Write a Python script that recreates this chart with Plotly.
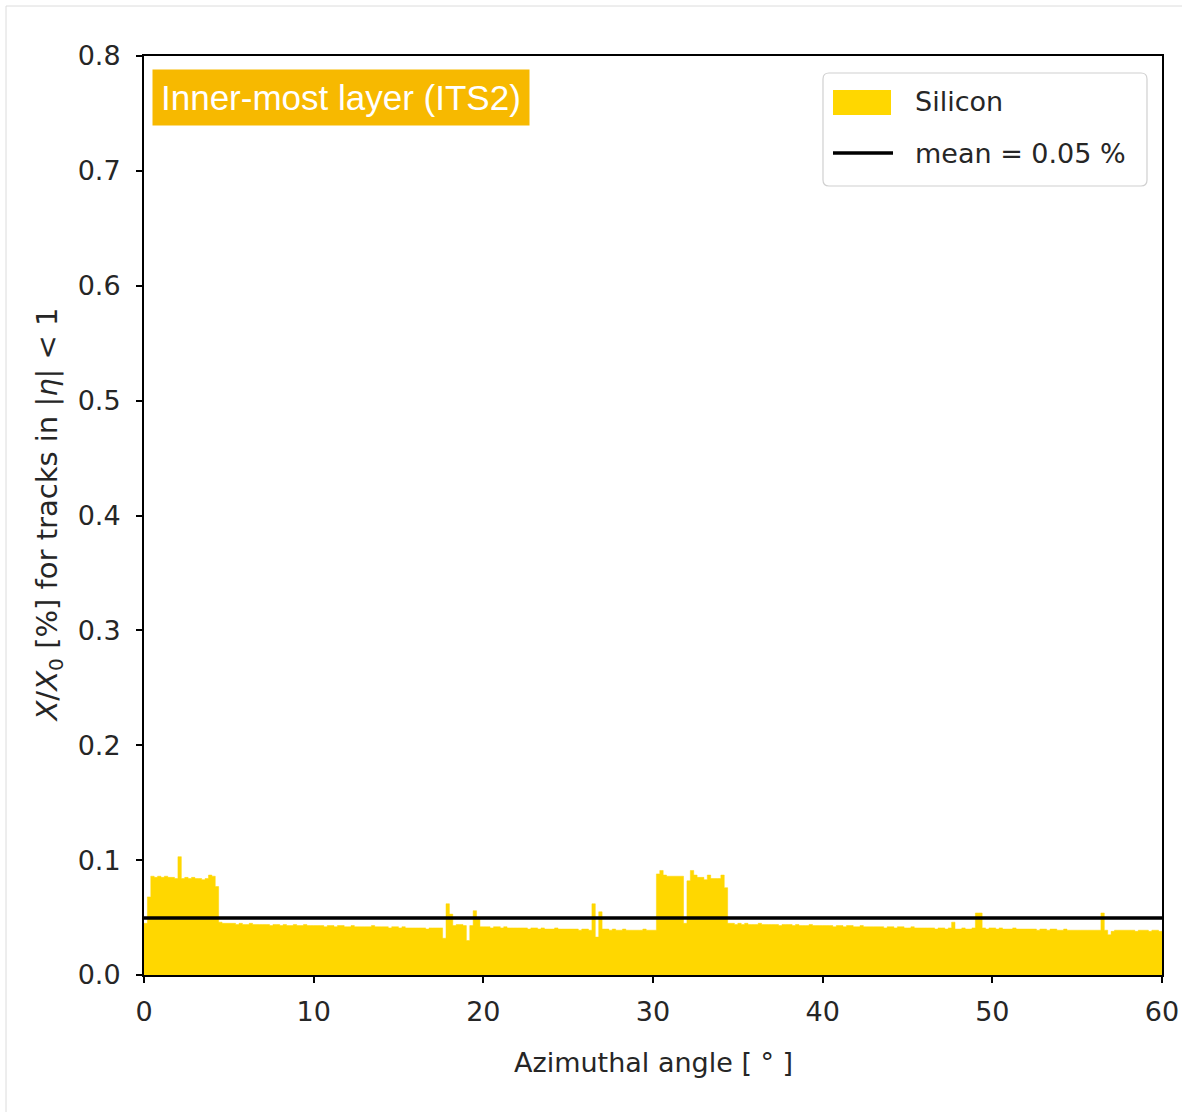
import numpy as np
import plotly.graph_objects as go

# ---------------- data ----------------
bin_start = 0.0
bin_width = 0.2  # degrees
silicon_x0 = [
    0.045, 0.068, 0.086, 0.085, 0.086,  # 0
    0.085, 0.086, 0.085, 0.085, 0.084,  # 1
    0.103, 0.084, 0.085, 0.084, 0.085,  # 2
    0.084, 0.084, 0.083, 0.084, 0.087,  # 3
    0.086, 0.077, 0.046, 0.045, 0.045,  # 4
    0.045, 0.045, 0.044, 0.045, 0.044,  # 5
    0.044, 0.045, 0.044, 0.044, 0.044,  # 6
    0.044, 0.044, 0.043, 0.044, 0.044,  # 7
    0.043, 0.044, 0.043, 0.043, 0.044,  # 8
    0.043, 0.043, 0.044, 0.043, 0.043,  # 9
    0.043, 0.043, 0.043, 0.042, 0.043,  # 10
    0.043, 0.042, 0.043, 0.043, 0.042,  # 11
    0.042, 0.043, 0.042, 0.042, 0.042,  # 12
    0.042, 0.042, 0.043, 0.042, 0.042,  # 13
    0.042, 0.042, 0.041, 0.042, 0.042,  # 14
    0.041, 0.042, 0.041, 0.041, 0.041,  # 15
    0.041, 0.041, 0.041, 0.040, 0.041,  # 16
    0.041, 0.041, 0.041, 0.032, 0.062,  # 17
    0.053, 0.043, 0.044, 0.044, 0.043,  # 18
    0.030, 0.043, 0.056, 0.050, 0.042,  # 19
    0.042, 0.042, 0.041, 0.042, 0.042,  # 20
    0.041, 0.042, 0.041, 0.041, 0.041,  # 21
    0.041, 0.041, 0.041, 0.040, 0.041,  # 22
    0.041, 0.040, 0.041, 0.040, 0.040,  # 23
    0.040, 0.041, 0.040, 0.040, 0.040,  # 24
    0.040, 0.040, 0.040, 0.039, 0.040,  # 25
    0.040, 0.039, 0.062, 0.033, 0.055,  # 26
    0.040, 0.040, 0.039, 0.040, 0.039,  # 27
    0.039, 0.040, 0.039, 0.039, 0.039,  # 28
    0.039, 0.039, 0.040, 0.039, 0.039,  # 29
    0.039, 0.088, 0.091, 0.087, 0.086,  # 30
    0.086, 0.086, 0.086, 0.086, 0.045,  # 31
    0.082, 0.091, 0.087, 0.085, 0.085,  # 32
    0.083, 0.087, 0.084, 0.084, 0.084,  # 33
    0.087, 0.076, 0.045, 0.045, 0.044,  # 34
    0.045, 0.044, 0.045, 0.044, 0.044,  # 35
    0.044, 0.045, 0.044, 0.044, 0.044,  # 36
    0.044, 0.044, 0.043, 0.044, 0.044,  # 37
    0.044, 0.043, 0.044, 0.043, 0.043,  # 38
    0.043, 0.044, 0.043, 0.043, 0.043,  # 39
    0.043, 0.043, 0.043, 0.042, 0.043,  # 40
    0.043, 0.042, 0.043, 0.043, 0.042,  # 41
    0.042, 0.043, 0.042, 0.042, 0.042,  # 42
    0.042, 0.042, 0.042, 0.041, 0.042,  # 43
    0.042, 0.041, 0.042, 0.042, 0.041,  # 44
    0.041, 0.042, 0.041, 0.041, 0.041,  # 45
    0.041, 0.041, 0.041, 0.040, 0.041,  # 46
    0.041, 0.040, 0.041, 0.046, 0.040,  # 47
    0.040, 0.041, 0.040, 0.040, 0.041,  # 48
    0.054, 0.054, 0.041, 0.040, 0.041,  # 49
    0.041, 0.040, 0.041, 0.040, 0.040,  # 50
    0.040, 0.041, 0.040, 0.040, 0.040,  # 51
    0.040, 0.040, 0.040, 0.039, 0.040,  # 52
    0.040, 0.039, 0.040, 0.040, 0.039,  # 53
    0.039, 0.040, 0.039, 0.039, 0.039,  # 54
    0.039, 0.039, 0.039, 0.039, 0.039,  # 55
    0.039, 0.039, 0.054, 0.039, 0.035,  # 56
    0.038, 0.039, 0.039, 0.039, 0.039,  # 57
    0.039, 0.039, 0.038, 0.039, 0.039,  # 58
    0.039, 0.038, 0.039, 0.039, 0.038,  # 59
]
mean_value = 0.0496
mean_label = "0.05"
x_range = [0, 60]
y_range = [0, 0.8]
x_ticks = [0, 10, 20, 30, 40, 50, 60]
y_ticks = [0.0, 0.1, 0.2, 0.3, 0.4, 0.5, 0.6, 0.7, 0.8]

# ---------------- figure ----------------
W, H = 1182, 1112
L, R, T, B = 144, 20, 56, 137
PW, PH = W - L - R, H - T - B


def px(xp):
    return (xp - L) / PW


def py(yp):
    return (H - B - yp) / PH


# histogram as a filled step curve (bin edges + repeated last value)
edges = bin_start + bin_width * np.arange(len(silicon_x0) + 1)
step_y = list(silicon_x0) + [silicon_x0[-1]]

GOLD = "#FFD700"
FONT = "DejaVu Sans"
TXT = "#262626"

fig = go.Figure()
fig.add_trace(go.Scatter(
    x=edges, y=step_y, mode="lines", line=dict(shape="hv", color=GOLD, width=0.5),
    fill="tozeroy", fillcolor=GOLD,
    name="Silicon", showlegend=False, hoverinfo="skip",
))
fig.add_trace(go.Scatter(
    x=x_range, y=[mean_value, mean_value], mode="lines",
    line=dict(color="black", width=3.5),
    name=f"mean = {mean_label} %", showlegend=False, hoverinfo="skip",
))

axis_common = dict(
    showgrid=False, zeroline=False, showline=True, linecolor="black",
    linewidth=2, mirror=True, ticks="outside", ticklen=6, tickwidth=1.5,
    tickcolor="black", tickfont=dict(family=FONT, size=27, color=TXT),
)
fig.update_xaxes(range=x_range, tickvals=x_ticks, ticklabelstandoff=6,
                 **axis_common)
fig.update_yaxes(range=y_range, tickvals=y_ticks, tickformat=".1f",
                 ticklabelstandoff=10, **axis_common)

# legend box (rounded) drawn in paper coordinates
lx0, lx1, ly0, ly1 = px(823), px(1147), py(186), py(73)
rx, ry = 6 / PW, 6 / PH
legend_path = (
    f"M{lx0+rx},{ly1} L{lx1-rx},{ly1} Q{lx1},{ly1} {lx1},{ly1-ry} "
    f"L{lx1},{ly0+ry} Q{lx1},{ly0} {lx1-rx},{ly0} "
    f"L{lx0+rx},{ly0} Q{lx0},{ly0} {lx0},{ly0+ry} "
    f"L{lx0},{ly1-ry} Q{lx0},{ly1} {lx0+rx},{ly1} Z"
)
shapes = [
    dict(type="path", xref="paper", yref="paper", path=legend_path,
         fillcolor="rgba(255,255,255,0.85)", line=dict(color="#d0d0d0", width=1.2)),
    dict(type="rect", xref="paper", yref="paper", x0=px(833), x1=px(891),
         y0=py(115), y1=py(90), fillcolor=GOLD, line=dict(width=0)),
    dict(type="line", xref="paper", yref="paper", x0=px(833), x1=px(893),
         y0=py(153), y1=py(153), line=dict(color="black", width=3.5)),
    # outer light frame of the picture
    dict(type="line", xref="paper", yref="paper", x0=px(6), x1=px(1182),
         y0=py(6), y1=py(6), line=dict(color="#dcdcdc", width=1)),
    dict(type="line", xref="paper", yref="paper", x0=px(6), x1=px(6),
         y0=py(6), y1=py(1112), line=dict(color="#dcdcdc", width=1)),
]

annotations = [
    dict(text="Silicon", xref="paper", yref="paper", x=px(913), y=py(102),
         xanchor="left", yanchor="middle", showarrow=False,
         font=dict(family=FONT, size=27, color=TXT)),
    dict(text=f"mean = {mean_label} %", xref="paper", yref="paper", x=px(913),
         y=py(153), xanchor="left", yanchor="middle", showarrow=False,
         font=dict(family=FONT, size=27, color=TXT)),
    dict(text="Inner-most layer (ITS2)", xref="paper", yref="paper",
         x=px(152), y=py(69), xanchor="left", yanchor="top", showarrow=False,
         bgcolor="#F7B900", borderpad=8,
         font=dict(family="Liberation Sans", size=35, color="white")),
    dict(text="Azimuthal angle [ ° ]", xref="paper", yref="paper",
         x=0.5, y=py(1062), xanchor="center", yanchor="middle", showarrow=False,
         font=dict(family=FONT, size=27, color=TXT)),
    dict(text="<i>X</i>/<i>X</i><sub>0</sub> [%] for tracks in |<i>η</i>| &lt; 1",
         xref="paper", yref="paper", x=px(48), y=0.5, textangle=-90,
         xanchor="center", yanchor="middle", showarrow=False,
         font=dict(family=FONT, size=29, color=TXT)),
]

fig.update_layout(
    width=W, height=H,
    margin=dict(l=L, r=R, t=T, b=B, autoexpand=False),
    paper_bgcolor="white", plot_bgcolor="white",
    showlegend=False,
    shapes=shapes, annotations=annotations,
    font=dict(family=FONT, color=TXT),
)

fig.write_html("out.html")
